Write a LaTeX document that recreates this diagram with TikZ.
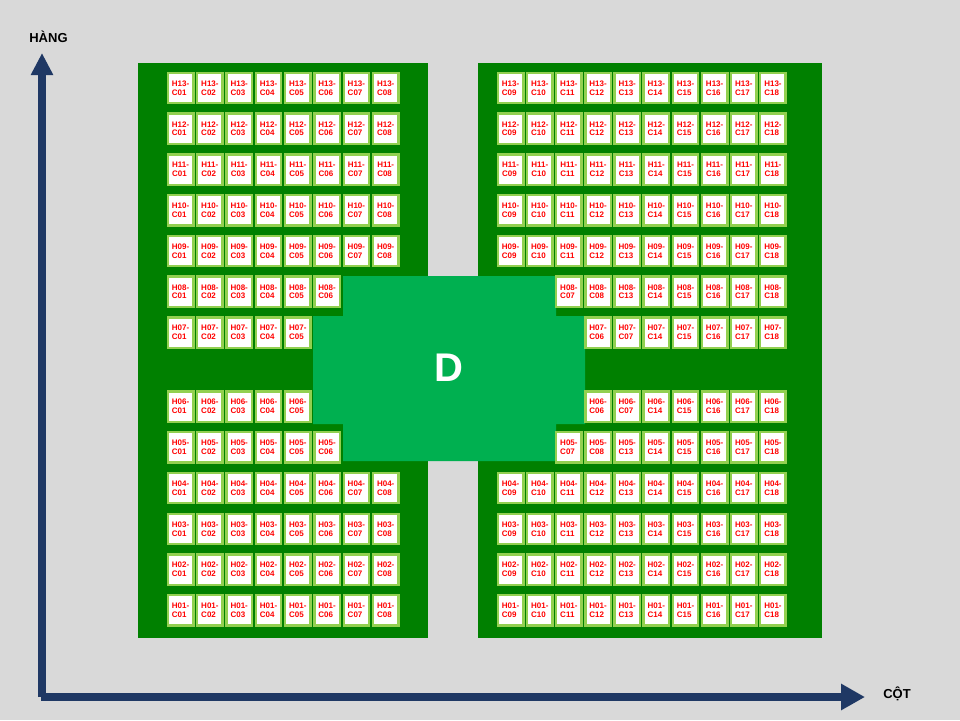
\documentclass[tikz,border=0pt]{standalone}
\usepackage{fontspec}
\setmainfont{Liberation Sans}
\usepackage{tikz}
\usetikzlibrary{arrows.meta,matrix}

\definecolor{paper}{RGB}{217,217,217}
\definecolor{blockgrn}{RGB}{0,128,0}
\definecolor{zonegrn}{RGB}{0,176,80}
\definecolor{cellrim}{RGB}{146,208,80}
\definecolor{axisblue}{RGB}{31,56,100}

\newcommand{\hc}[2]{\vbox{\hbox{H#1-}\hbox{C#2}}}

\begin{document}
\begin{tikzpicture}[x=1pt,y=-1pt,
  cell/.style={draw=cellrim, line width=2.4pt, fill=white, text=red,
    font=\fontsize{8}{8.8}\selectfont\bfseries,
    minimum width=25.4pt, minimum height=30.3pt, inner sep=0pt, outer sep=0pt, anchor=center},
  axlabel/.style={font=\fontsize{13}{15}\selectfont\bfseries, text=black},
  axline/.style={axisblue, line width=8pt}]
\fill[paper] (0,0) rectangle (960,720);
\useasboundingbox (0,0) rectangle (960,720);

\fill[blockgrn] (138,63) rectangle (428,638);
\fill[blockgrn] (478,63) rectangle (822,638);

\fill[zonegrn] (343,276) -- (556,276) -- (556,316) -- (585,316) -- (585,424) -- (556,424)
  -- (556,461) -- (343,461) -- (343,424) -- (313,424) -- (313,316) -- (343,316) -- cycle;
\node[text=white, font=\fontsize{40}{44}\selectfont\bfseries] (zone) at (449,368) {D};

\matrix (lft)[matrix of nodes, column sep=1.5pt, row sep=8.05pt, inner sep=0pt, outer sep=0pt,
  anchor=north west, nodes={cell}] at (166.7,71.7) {
\hc{13}{01} & \hc{13}{02} & \hc{13}{03} & \hc{13}{04} & \hc{13}{05} & \hc{13}{06} & \hc{13}{07} & \hc{13}{08} \\
\hc{12}{01} & \hc{12}{02} & \hc{12}{03} & \hc{12}{04} & \hc{12}{05} & \hc{12}{06} & \hc{12}{07} & \hc{12}{08} \\
\hc{11}{01} & \hc{11}{02} & \hc{11}{03} & \hc{11}{04} & \hc{11}{05} & \hc{11}{06} & \hc{11}{07} & \hc{11}{08} \\
\hc{10}{01} & \hc{10}{02} & \hc{10}{03} & \hc{10}{04} & \hc{10}{05} & \hc{10}{06} & \hc{10}{07} & \hc{10}{08} \\
\hc{09}{01} & \hc{09}{02} & \hc{09}{03} & \hc{09}{04} & \hc{09}{05} & \hc{09}{06} & \hc{09}{07} & \hc{09}{08} \\
\hc{08}{01} & \hc{08}{02} & \hc{08}{03} & \hc{08}{04} & \hc{08}{05} & \hc{08}{06} & & \\
\hc{07}{01} & \hc{07}{02} & \hc{07}{03} & \hc{07}{04} & \hc{07}{05} & & & \\[33.3pt]
\hc{06}{01} & \hc{06}{02} & \hc{06}{03} & \hc{06}{04} & \hc{06}{05} & & & \\
\hc{05}{01} & \hc{05}{02} & \hc{05}{03} & \hc{05}{04} & \hc{05}{05} & \hc{05}{06} & & \\
\hc{04}{01} & \hc{04}{02} & \hc{04}{03} & \hc{04}{04} & \hc{04}{05} & \hc{04}{06} & \hc{04}{07} & \hc{04}{08} \\
\hc{03}{01} & \hc{03}{02} & \hc{03}{03} & \hc{03}{04} & \hc{03}{05} & \hc{03}{06} & \hc{03}{07} & \hc{03}{08} \\
\hc{02}{01} & \hc{02}{02} & \hc{02}{03} & \hc{02}{04} & \hc{02}{05} & \hc{02}{06} & \hc{02}{07} & \hc{02}{08} \\
\hc{01}{01} & \hc{01}{02} & \hc{01}{03} & \hc{01}{04} & \hc{01}{05} & \hc{01}{06} & \hc{01}{07} & \hc{01}{08} \\
};

\matrix (rgt)[matrix of nodes, column sep=1.35pt, row sep=8.05pt, inner sep=0pt, outer sep=0pt,
  anchor=north west, nodes={cell}] at (496.7,71.7) {
\hc{13}{09} & \hc{13}{10} & \hc{13}{11} & \hc{13}{12} & \hc{13}{13} & \hc{13}{14} & \hc{13}{15} & \hc{13}{16} & \hc{13}{17} & \hc{13}{18} \\
\hc{12}{09} & \hc{12}{10} & \hc{12}{11} & \hc{12}{12} & \hc{12}{13} & \hc{12}{14} & \hc{12}{15} & \hc{12}{16} & \hc{12}{17} & \hc{12}{18} \\
\hc{11}{09} & \hc{11}{10} & \hc{11}{11} & \hc{11}{12} & \hc{11}{13} & \hc{11}{14} & \hc{11}{15} & \hc{11}{16} & \hc{11}{17} & \hc{11}{18} \\
\hc{10}{09} & \hc{10}{10} & \hc{10}{11} & \hc{10}{12} & \hc{10}{13} & \hc{10}{14} & \hc{10}{15} & \hc{10}{16} & \hc{10}{17} & \hc{10}{18} \\
\hc{09}{09} & \hc{09}{10} & \hc{09}{11} & \hc{09}{12} & \hc{09}{13} & \hc{09}{14} & \hc{09}{15} & \hc{09}{16} & \hc{09}{17} & \hc{09}{18} \\
& & \hc{08}{07} & \hc{08}{08} & \hc{08}{13} & \hc{08}{14} & \hc{08}{15} & \hc{08}{16} & \hc{08}{17} & \hc{08}{18} \\
& & & \hc{07}{06} & \hc{07}{07} & \hc{07}{14} & \hc{07}{15} & \hc{07}{16} & \hc{07}{17} & \hc{07}{18} \\[33.3pt]
& & & \hc{06}{06} & \hc{06}{07} & \hc{06}{14} & \hc{06}{15} & \hc{06}{16} & \hc{06}{17} & \hc{06}{18} \\
& & \hc{05}{07} & \hc{05}{08} & \hc{05}{13} & \hc{05}{14} & \hc{05}{15} & \hc{05}{16} & \hc{05}{17} & \hc{05}{18} \\
\hc{04}{09} & \hc{04}{10} & \hc{04}{11} & \hc{04}{12} & \hc{04}{13} & \hc{04}{14} & \hc{04}{15} & \hc{04}{16} & \hc{04}{17} & \hc{04}{18} \\
\hc{03}{09} & \hc{03}{10} & \hc{03}{11} & \hc{03}{12} & \hc{03}{13} & \hc{03}{14} & \hc{03}{15} & \hc{03}{16} & \hc{03}{17} & \hc{03}{18} \\
\hc{02}{09} & \hc{02}{10} & \hc{02}{11} & \hc{02}{12} & \hc{02}{13} & \hc{02}{14} & \hc{02}{15} & \hc{02}{16} & \hc{02}{17} & \hc{02}{18} \\
\hc{01}{09} & \hc{01}{10} & \hc{01}{11} & \hc{01}{12} & \hc{01}{13} & \hc{01}{14} & \hc{01}{15} & \hc{01}{16} & \hc{01}{17} & \hc{01}{18} \\
};

% axes
\coordinate (orgv) at (42,697);
\coordinate (orgh) at (41,697);
\coordinate (rowtip) at (42,53);
\coordinate (coltip) at (865,697);
\draw[axline, -{Triangle[width=21pt,length=22pt]}] (orgv) -- (rowtip);
\draw[axline, -{Triangle[width=25pt,length=24pt]}] (orgh) -- (coltip);
\node[axlabel] (rowlab) at (48.5,37) {HÀNG};
\node[axlabel] (collab) at (897,694) {CỘT};
\end{tikzpicture}
\end{document}
